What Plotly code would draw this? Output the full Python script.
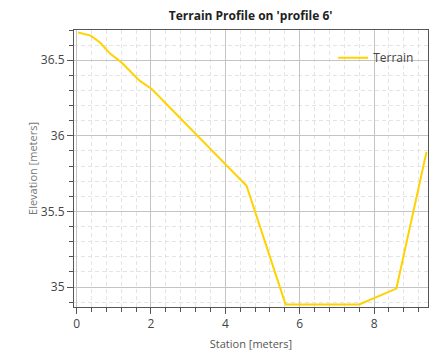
import plotly.graph_objects as go

station = [0.04, 0.38, 0.63, 0.90, 1.21, 1.70, 2.02, 2.60, 4.00, 4.57, 5.62, 7.60, 8.60, 9.41]
elevation = [36.683, 36.663, 36.617, 36.544, 36.485, 36.363, 36.31, 36.165, 35.813, 35.67, 34.885, 34.885, 34.99, 35.894]

x_ticks = [0, 2, 4, 6, 8]
y_ticks = [35, 35.5, 36, 36.5]
y_tick_labels = ["35", "35.5", "36", "36.5"]

fig = go.Figure()
fig.add_trace(go.Scatter(
    x=station, y=elevation, mode="lines", name="Terrain",
    line=dict(color="#FFD200", width=2),
))

font_family = "Open Sans, Noto Sans, sans-serif"

fig.update_layout(
    width=431, height=356,
    margin=dict(l=74, r=3, t=30, b=49),
    paper_bgcolor="white", plot_bgcolor="white",
    font=dict(family=font_family, size=11, color="#444"),
    title=dict(text="<b>Terrain Profile on 'profile 6'</b>", x=0.5815, xanchor="center",
               y=0.957, yanchor="middle", font=dict(size=12, color="#222")),
    showlegend=True,
    legend=dict(x=0.975, xanchor="right", y=0.90, yanchor="middle",
                bgcolor="rgba(0,0,0,0)", font=dict(size=12, color="#444"),
                itemwidth=30),
)

minor_dash = "4px,3px"

fig.update_xaxes(
    range=[-0.07, 9.45], tickvals=x_ticks, ticktext=[str(v) for v in x_ticks],
    showline=True, linecolor="#555", linewidth=1, mirror=True,
    ticks="outside", ticklen=6, tickcolor="#555",
    showgrid=True, gridcolor="#c4c4c4", gridwidth=1, zeroline=False,
    minor=dict(dtick=0.4, tick0=0, ticks="outside", ticklen=4, tickcolor="#555",
               showgrid=True, gridcolor="#e4e4e4", griddash=minor_dash, gridwidth=1),
    title=dict(text="Station [meters]", font=dict(size=11, color="#555"), standoff=8),
    tickfont=dict(size=12, color="#444"),
    automargin=True,
)
fig.update_yaxes(
    range=[34.868, 36.70], tickvals=y_ticks, ticktext=y_tick_labels,
    showline=True, linecolor="#555", linewidth=1, mirror=True,
    ticks="outside", ticklen=6, tickcolor="#555",
    showgrid=True, gridcolor="#c4c4c4", gridwidth=1, zeroline=False,
    minor=dict(dtick=0.1, tick0=35, ticks="outside", ticklen=4, tickcolor="#555",
               showgrid=True, gridcolor="#e4e4e4", griddash=minor_dash, gridwidth=1),
    title=dict(text="Elevation [meters]", font=dict(size=11, color="#777"), standoff=0),
    tickfont=dict(size=12, color="#444"),
    automargin=True,
)

fig.write_html("out.html", config={"displayModeBar": False},
               post_script="document.body.style.margin='0';")
